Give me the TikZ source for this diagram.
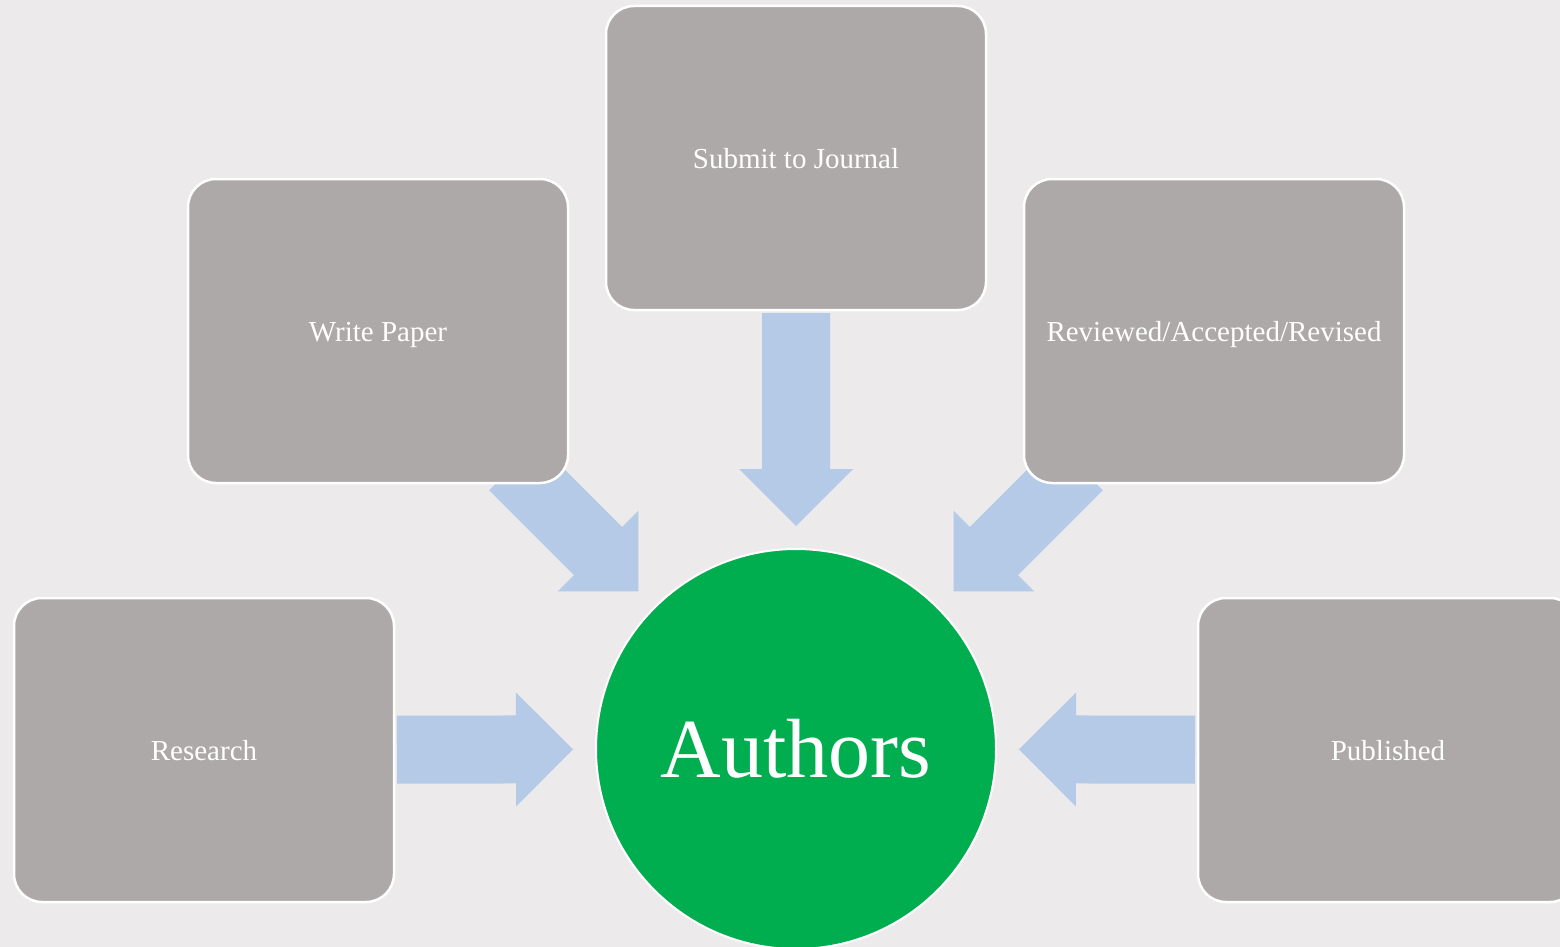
\documentclass[tikz,border=0pt]{standalone}
\usepackage{fontspec}
\setmainfont{Liberation Serif}
\usetikzlibrary{calc,backgrounds}
\definecolor{bgcol}{RGB}{236,234,235}
\definecolor{boxgray}{RGB}{173,169,168}
\definecolor{arrowblue}{RGB}{180,202,230}
\definecolor{authgreen}{RGB}{0,174,79}
% block arrow from tail #1 to tip #2
\newcommand{\blockarrow}[2]{%
  \coordinate (hb) at ($(#2)!57pt!(#1)$);
  \fill[arrowblue] ($(#1)!34pt!90:(#2)$) -- ($(hb)!34pt!90:(#2)$)
    -- ($(hb)!57pt!90:(#2)$) -- (#2) -- ($(hb)!57pt!-90:(#2)$)
    -- ($(hb)!34pt!-90:(#2)$) -- ($(#1)!34pt!-90:(#2)$) -- cycle;}
\begin{document}
\begin{tikzpicture}[x=1pt,y=-1pt,
    stage/.style={rectangle,rounded corners=28pt,fill=boxgray,draw=white,
      line width=2.5pt,minimum width=380pt,minimum height=304pt,text=white,
      text height=20pt,text depth=0pt,font=\fontsize{29}{34}\selectfont},
    hub/.style={circle,fill=authgreen,draw=white,line width=2pt,
      minimum size=400pt,text=white,font=\fontsize{84}{96}\selectfont}]
    \useasboundingbox (0,0) rectangle (1560,947);
    \clip (0,0) rectangle (1560,947);
    %% boxes
    \node[hub] (authors) at (796,749) {Authors};
    \node[stage] (journal) at (796,158) {Submit to Journal};
    \node[stage] (paper) at (378,331) {Write Paper};
    \node[stage] (reviewed) at (1214,331) {Reviewed/Accepted/Revised};
    \node[stage] (research) at (204,750) {Research};
    \node[stage] (published) at (1388,750) {Published};
    %% arrows
    \begin{pgfonlayer}{background}
    \fill[bgcol] (0,0) rectangle (1560,947);
    \coordinate (jt) at ($(authors)!436pt!(journal)$);
    \coordinate (jh) at ($(authors)!223pt!(journal)$);
    \coordinate (pt) at ($(authors)!400pt!(paper)$);
    \coordinate (ph) at ($(authors)!223pt!(paper)$);
    \coordinate (vt) at ($(authors)!400pt!(reviewed)$);
    \coordinate (vh) at ($(authors)!223pt!(reviewed)$);
    \coordinate (rt) at ($(authors)!399pt!(research)$);
    \coordinate (rh) at ($(authors)!223pt!(research)$);
    \coordinate (ut) at ($(authors)!399pt!(published)$);
    \coordinate (uh) at ($(authors)!223pt!(published)$);
    \blockarrow{jt}{jh}
    \blockarrow{pt}{ph}
    \blockarrow{vt}{vh}
    \blockarrow{rt}{rh}
    \blockarrow{ut}{uh}
    \end{pgfonlayer}
\end{tikzpicture}
\end{document}
